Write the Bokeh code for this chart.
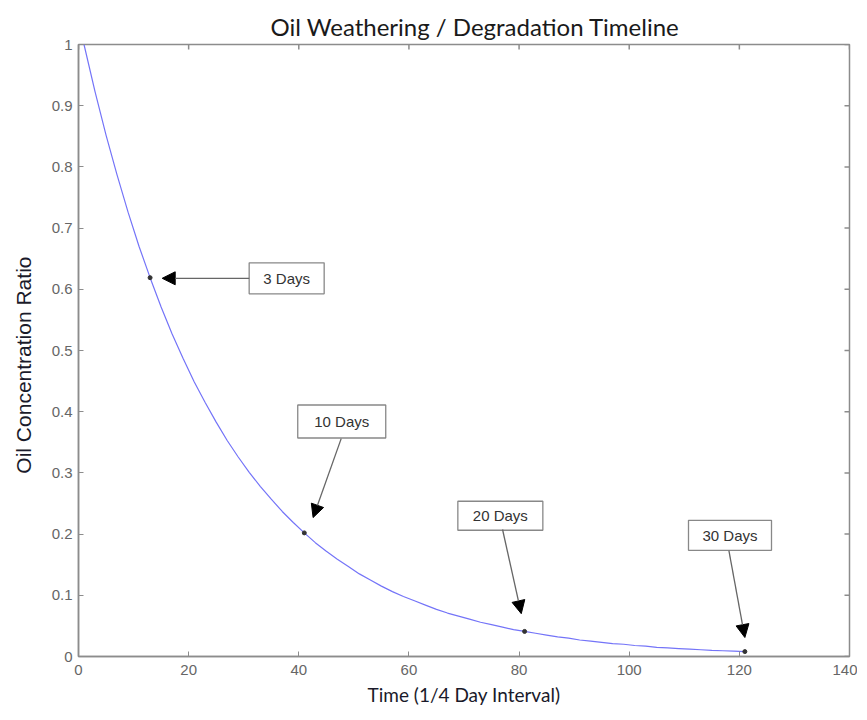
from bokeh.plotting import figure
from bokeh.models import Range1d, FixedTicker, Arrow, NormalHead, ColumnDataSource
from bokeh.core.properties import value
from bokeh.embed import file_html
from bokeh.resources import INLINE

# ---- data ----
t = [1, 3, 5, 7, 9, 11, 13, 15, 17, 19, 21, 23, 25, 27, 29, 31, 33, 35, 37, 39,
     41, 43, 45, 47, 49, 51, 53, 55, 57, 59, 61, 63, 65, 67, 69, 71, 73, 75, 77,
     79, 81, 83, 85, 87, 89, 91, 93, 95, 97, 99, 101, 103, 105, 107, 109, 111,
     113, 115, 117, 119, 121]
ratio = [1.000, 0.923, 0.852, 0.787, 0.726, 0.670, 0.619, 0.571, 0.527, 0.487,
         0.449, 0.415, 0.383, 0.353, 0.326, 0.301, 0.278, 0.257, 0.237, 0.219,
         0.202, 0.186, 0.172, 0.159, 0.147, 0.135, 0.125, 0.115, 0.106, 0.098,
         0.091, 0.084, 0.077, 0.071, 0.066, 0.061, 0.056, 0.052, 0.048, 0.044,
         0.041, 0.038, 0.035, 0.032, 0.030, 0.027, 0.025, 0.023, 0.021, 0.020,
         0.018, 0.017, 0.015, 0.014, 0.013, 0.012, 0.011, 0.010, 0.0094, 0.0087,
         0.0080]
mark_t = [13, 41, 81, 121]
mark_ratio = [0.619, 0.202, 0.041, 0.008]
mark_labels = ["3 Days", "10 Days", "20 Days", "30 Days"]
x_ticks = [0, 20, 40, 60, 80, 100, 120, 140]
y_ticks = [0, 0.1, 0.2, 0.3, 0.4, 0.5, 0.6, 0.7, 0.8, 0.9, 1]

# ---- annotation layout (label box centres, arrow starts / tips) ----
box_x = [37.8, 47.8, 76.6, 118.3]
box_y = [0.618, 0.384, 0.230, 0.198]
box_w = [75, 88, 85, 83]
box_h = [31, 33, 29, 30]
arrow_x0 = [31.0, 47.7, 77.0, 118.1]
arrow_y0 = [0.618, 0.356, 0.2075, 0.173]
arrow_x1 = [15.2, 42.6, 80.4, 121.0]
arrow_y1 = [0.618, 0.227, 0.070, 0.031]

GREY = "#8c8c8c"
TICK_FONT = "Liberation Sans"
NBSP = "\u00a0"

p = figure(width=857, height=716, output_backend="svg", toolbar_location=None,
           x_range=Range1d(0, 140), y_range=Range1d(0, 1),
           min_border_left=78, min_border_right=8, min_border_top=44,
           min_border_bottom=60, x_axis_label="Time (1/4 Day Interval)",
           y_axis_label="Oil Concentration Ratio" + NBSP * 5)

p.title.text = "Oil Weathering / Degradation Timeline"
p.title.align = "left"
p.title.offset = 192
p.title.standoff = 8
p.title.text_font = "Lato"
p.title.text_font_size = "24px"
p.title.text_font_style = "normal"
p.title.text_color = "#1a1a1a"

p.grid.visible = False
p.outline_line_color = GREY
p.outline_line_width = 1.5
p.background_fill_color = "white"
p.border_fill_color = "white"

p.xaxis.ticker = FixedTicker(ticks=x_ticks)
p.yaxis.ticker = FixedTicker(ticks=y_ticks)
p.yaxis.major_label_overrides = {0: "0", 1: "1"}

for ax in (p.xaxis[0], p.yaxis[0]):
    ax.axis_line_color = GREY
    ax.axis_line_width = 1.5
    ax.major_tick_line_color = GREY
    ax.major_tick_in = 5
    ax.major_tick_out = 0
    ax.minor_tick_line_color = None
    ax.major_label_text_font = TICK_FONT
    ax.major_label_text_font_size = "15px"
    ax.major_label_text_color = "#666666"
    ax.axis_label_text_font_style = "normal"
    ax.axis_label_text_color = "#1a1a2a"

p.xaxis.axis_label_text_font = "Lato"
p.xaxis.axis_label_text_font_size = "19px"
p.yaxis.axis_label_text_font = "Liberation Sans"
p.yaxis.axis_label_text_font_size = "21px"
p.xaxis.major_label_standoff = 8
p.yaxis.major_label_standoff = 6
p.xaxis.axis_label_standoff = 5
p.yaxis.axis_label_standoff = 14

# inward ticks on the top and right edges of the box
p.ray(x=x_ticks, y=[1] * len(x_ticks), length=5, length_units="screen",
      angle=-90, angle_units="deg", line_color=GREY, line_width=1.5)
p.ray(x=[140] * len(y_ticks), y=y_ticks, length=5, length_units="screen",
      angle=180, angle_units="deg", line_color=GREY, line_width=1.5)

# curve
p.line(t, ratio, line_color="#7474f8", line_width=1.2)

# marked points
p.scatter(mark_t, mark_ratio, size=4, color="#333333")

# arrows
asrc = ColumnDataSource(dict(x0=arrow_x0, y0=arrow_y0, x1=arrow_x1, y1=arrow_y1))
p.add_layout(Arrow(end=NormalHead(size=13, fill_color="black", line_color="black"),
                   x_start="x0", y_start="y0", x_end="x1", y_end="y1", source=asrc,
                   line_color="#666666", line_width=1.3))

# label boxes
bsrc = ColumnDataSource(dict(x=box_x, y=box_y, w=box_w, h=box_h, txt=mark_labels))
p.rect(x="x", y="y", width="w", height="h", width_units="screen", height_units="screen",
       source=bsrc, fill_color="white", line_color="#888888", line_width=1.3)
p.text(x="x", y="y", text="txt", source=bsrc, text_align="center", text_baseline="middle",
       text_font=value(TICK_FONT), text_font_size="15px", text_color="#333333")

open("out.html", "w").write(file_html(p, INLINE))
